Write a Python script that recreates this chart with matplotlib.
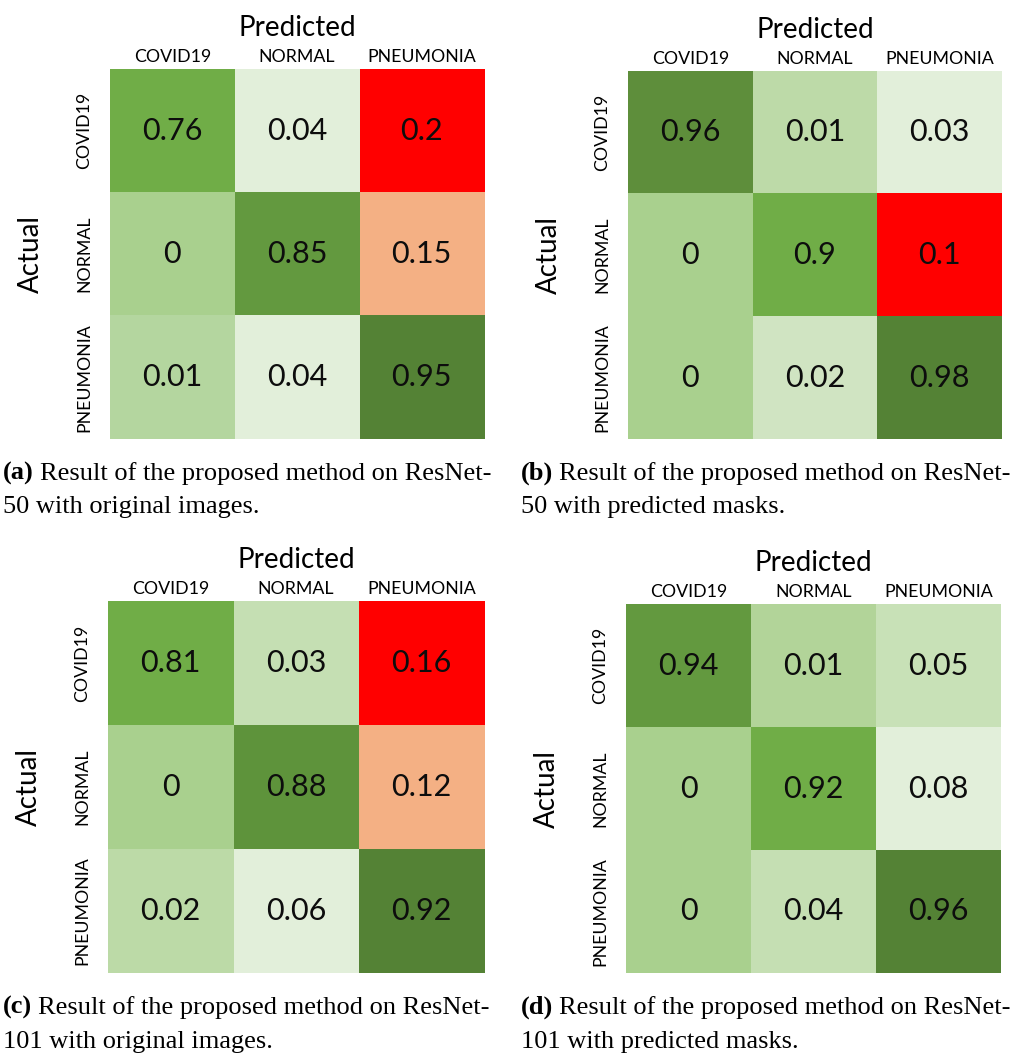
import numpy as np
import matplotlib
matplotlib.use("Agg")
import matplotlib.pyplot as plt
from matplotlib.colors import to_rgb

# ---- data ----
classes = ["COVID19", "NORMAL", "PNEUMONIA"]

resnet50_original = [[0.76, 0.04, 0.2],
                     [0, 0.85, 0.15],
                     [0.01, 0.04, 0.95]]
resnet50_masks = [[0.96, 0.01, 0.03],
                  [0, 0.9, 0.1],
                  [0, 0.02, 0.98]]
resnet101_original = [[0.81, 0.03, 0.16],
                      [0, 0.88, 0.12],
                      [0.02, 0.06, 0.92]]
resnet101_masks = [[0.94, 0.01, 0.05],
                   [0, 0.92, 0.08],
                   [0, 0.04, 0.96]]

caption_tags = ["(a)", "(b)", "(c)", "(d)"]
caption_lines = [
    ["Result of the proposed method on ResNet-", "50 with original images."],
    ["Result of the proposed method on ResNet-", "50 with predicted masks."],
    ["Result of the proposed method on ResNet-", "101 with original images."],
    ["Result of the proposed method on ResNet-", "101 with predicted masks."],
]

# ---- cell fill colours (conditional formatting) ----
fills = [
    [["#70AD47", "#E2EFDA", "#FF0000"],
     ["#A9D08E", "#63993F", "#F4B084"],
     ["#B4D69F", "#E2EFDA", "#548235"]],
    [["#5E8E3B", "#BDDAA8", "#E2EFDA"],
     ["#A9D08E", "#70AD47", "#FF0000"],
     ["#A9D08E", "#D0E4C2", "#548235"]],
    [["#70AD47", "#C5DFB3", "#FF0000"],
     ["#A9D08E", "#5E933B", "#F4B084"],
     ["#BCDAA7", "#E2EFDA", "#548235"]],
    [["#63993F", "#B2D499", "#C8E1B7"],
     ["#A9D08E", "#70AD47", "#E2EFDA"],
     ["#A9D08E", "#C5DFB3", "#548235"]],
]

W, H = 1016, 1059
fig = plt.figure(figsize=(W / 100, H / 100), dpi=100)
SANS = "Lato"
SERIF = "Liberation Serif"


def fx(x):
    return x / W


def fy(y):
    return 1 - y / H


# grid boxes in pixels: left, top, right, bottom
grid_boxes = [(110, 69, 484, 439), (628, 71, 1002, 439),
              (108, 601, 484, 973), (626, 604, 1001, 973)]
caption_pos = [(3, 480, 513), (521, 480, 513), (3, 1014, 1048), (521, 1014, 1048)]

matrices = [resnet50_original, resnet50_masks, resnet101_original, resnet101_masks]

renderer = fig.canvas.get_renderer()

for k in range(4):
    l, t, r, b = grid_boxes[k]
    ax = fig.add_axes([fx(l), fy(b), fx(r) - fx(l), fy(t) - fy(b)])
    vals = np.array(matrices[k], dtype=float)
    rgb = np.array([[to_rgb(c) for c in row] for row in fills[k]])
    ax.imshow(rgb, aspect="auto", interpolation="nearest")
    for i in range(vals.shape[0]):
        for j in range(vals.shape[1]):
            ax.text(j, i, f"{vals[i, j]:g}", ha="center", va="center",
                    fontsize=22, family=SANS, color="#0d0d0d")
    ax.set_xticks(range(len(classes)))
    ax.set_yticks(range(len(classes)))
    ax.set_xticklabels(classes, fontsize=12.8, family=SANS)
    ax.set_yticklabels(classes, fontsize=12.8, family=SANS, rotation=90, va="center")
    ax.xaxis.tick_top()
    ax.tick_params(length=0)
    ax.tick_params(axis="x", pad=3)
    ax.tick_params(axis="y", pad=13)
    for s in ax.spines.values():
        s.set_visible(False)
    ax.set_title("Predicted", fontsize=20, family=SANS, pad=24)
    ax.set_ylabel("Actual", fontsize=20, family=SANS, labelpad=23)

    # caption: bold tag followed by regular text
    cx, by1, by2 = caption_pos[k]
    tag = fig.text(fx(cx), fy(by1), caption_tags[k], fontsize=19,
                   family=SERIF, weight="bold", va="baseline", ha="left")
    bb = tag.get_window_extent(renderer=renderer)
    fig.text(fx(bb.x1 + 6), fy(by1), caption_lines[k][0], fontsize=19,
             family=SERIF, va="baseline", ha="left")
    fig.text(fx(cx), fy(by2), caption_lines[k][1], fontsize=19,
             family=SERIF, va="baseline", ha="left")

fig.savefig("out.png", dpi=100)
